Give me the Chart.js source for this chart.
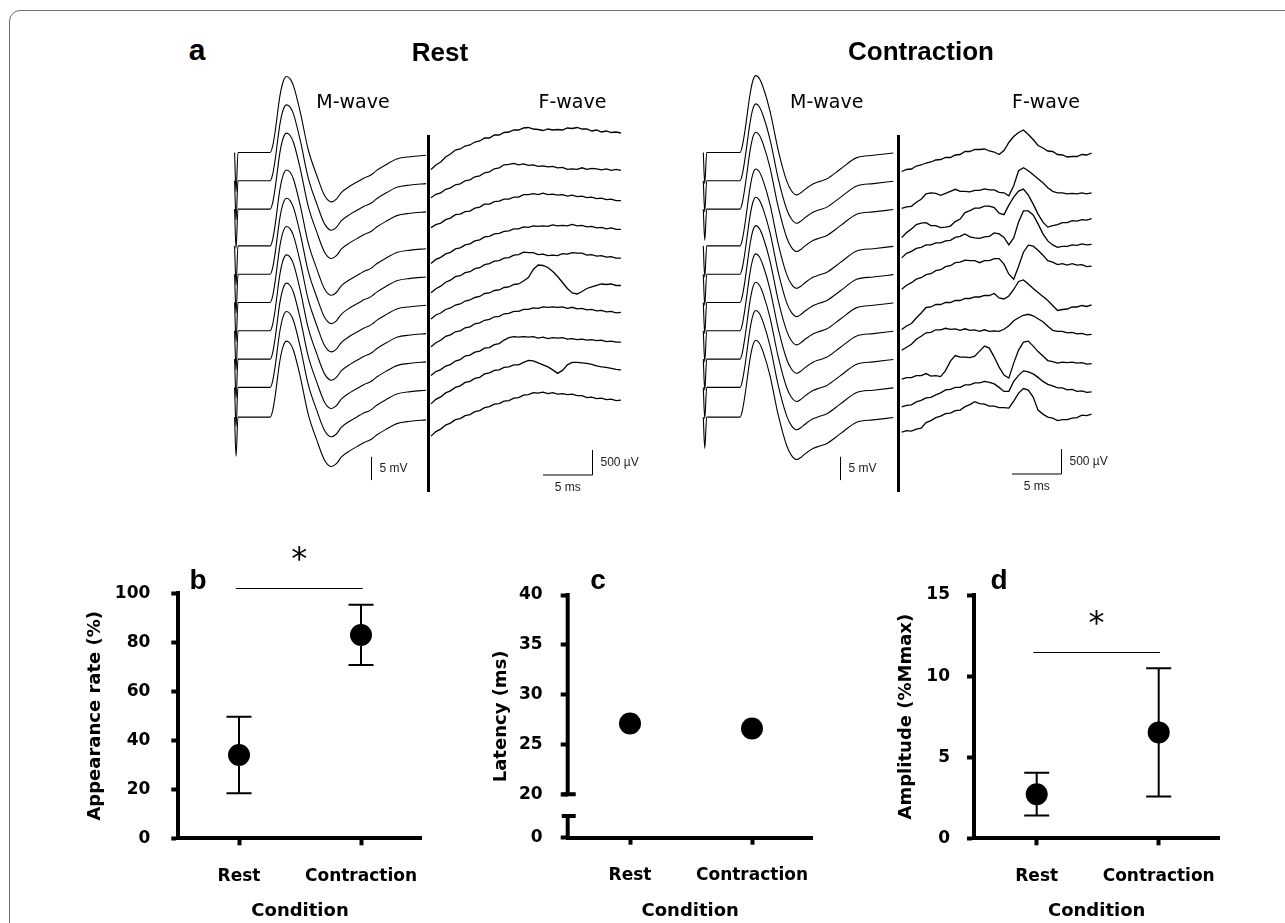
<!DOCTYPE html>
<html>
<head>
<meta charset="utf-8">
<title>M-wave / F-wave figure</title>
<script src="https://cdn.jsdelivr.net/npm/chart.js"></script>
<style>
  html, body { margin: 0; padding: 0; background: #fff; }
  body { position: relative; width: 1285px; height: 923px; overflow: hidden; }
  .frame { position: absolute; left: 9px; top: 10px; width: 1320px; height: 960px; border: 1px solid #707070; border-radius: 11px; }
  canvas { position: absolute; }
  .lbl { position: absolute; white-space: nowrap; color: #000; transform: translateX(-50%); }
  .sep { position: absolute; width: 3px; background: #000; }
</style>
</head>
<body>
<div class="frame"></div>
<canvas id="restM"></canvas>
<canvas id="restF"></canvas>
<canvas id="conM"></canvas>
<canvas id="conF"></canvas>
<canvas id="panelB"></canvas>
<canvas id="panelC"></canvas>
<canvas id="panelD"></canvas>
<div class="sep" style="left:427px;top:135px;height:357px"></div>
<div class="sep" style="left:897px;top:135px;height:357px"></div>

<script>
// ---- data ----

// M-wave (mV) vs time after stimulus (ms); all 10 sweeps overlap in shape
const restMTimes = [-0.35, -0.2, 0, 3.3, 3.55, 3.8, 4.3, 4.65, 5.0, 5.35, 5.7, 6.4, 7.2, 8.1, 8.9, 9.6, 10.1, 10.6, 11.5, 12.5, 13.0, 13.4, 13.8, 14.2, 15.3, 16.3, 17.7, 19.3];
const restMWave  = [0, -8.4, 0, 0, 1.3, 4.3, 12.1, 15.3, 16.3, 15.8, 14.3, 8.6, 0.7, -5.0, -9.3, -10.6, -10.0, -8.6, -7.2, -6.0, -5.4, -5.1, -4.6, -3.9, -2.5, -1.4, -0.9, -0.6];
const conMTimes  = [-0.35, -0.2, 0, 3.42, 3.65, 3.93, 4.45, 4.75, 5.06, 5.4, 5.81, 6.5, 7.35, 8.21, 8.7, 9.24, 9.7, 10.1, 10.95, 11.6, 12.3, 13.7, 15.4, 17.1, 19.16];
const conMWave   = [0, -6.7, 0, 0, 1.3, 4.7, 12.5, 15.5, 16.5, 15.9, 13.9, 8.9, 0.4, -6.1, -8.2, -9.1, -8.6, -7.9, -6.7, -6.2, -5.7, -3.6, -1.1, -0.6, -0.1];

// F-wave window, ms from window start
const fTimes = [0, 0.5, 1, 1.5, 2, 2.5, 3, 3.5, 4, 4.5, 5, 5.5, 6, 6.5, 7, 7.5, 8, 8.5, 9, 9.5,
                10, 10.5, 11, 11.5, 12, 12.5, 13, 13.5, 14, 14.5, 15, 15.5, 16, 16.5, 17, 17.5, 18, 18.5, 19, 19.5];

// F-wave sweeps at rest (µV)
const restFWaves = [
  [-340,-250,-190,-90,-30,50,70,130,150,210,230,290,290,350,350,400,410,450,450,490,500,470,460,440,470,450,460,450,490,480,500,470,470,430,450,410,430,400,410,390],
  [-340,-270,-240,-170,-140,-80,-60,0,20,80,100,160,180,240,260,320,330,350,320,340,310,320,290,300,280,290,260,270,230,240,230,260,230,250,240,220,240,210,230,210],
  [-370,-310,-280,-210,-180,-110,-100,-50,-40,20,40,100,100,150,160,200,200,240,240,290,290,310,290,320,290,300,280,290,260,280,250,260,230,240,210,220,190,200,170,170],
  [-350,-270,-230,-160,-130,-60,-40,20,40,100,120,180,190,240,250,290,300,340,340,380,370,400,390,400,390,420,400,410,400,430,400,410,380,390,360,370,340,360,330,330],
  [-370,-290,-240,-160,-120,-50,-30,30,50,110,130,190,210,260,270,320,330,380,390,440,430,430,390,400,370,380,370,410,400,430,420,420,380,390,360,370,340,350,320,320],
  [-330,-250,-210,-140,-110,-50,-30,30,50,100,120,180,190,240,250,300,310,360,370,430,500,660,750,740,700,620,520,400,280,190,170,220,280,310,340,370,360,370,340,340],
  [-320,-240,-190,-110,-80,-20,0,60,80,140,160,210,230,280,290,340,350,390,390,430,430,460,450,480,470,480,470,480,450,470,440,450,420,430,400,410,380,390,360,370],
  [-330,-250,-210,-140,-110,-40,-10,60,80,140,160,220,230,290,310,380,430,450,440,450,440,450,420,440,410,430,420,430,400,410,390,400,380,390,370,380,350,360,340,340],
  [-330,-240,-190,-110,-70,0,30,100,120,180,200,270,290,340,350,400,410,450,450,500,540,530,490,450,410,350,280,340,450,500,500,490,480,460,430,410,400,380,360,350],
  [-380,-290,-240,-160,-120,-50,-30,30,50,110,130,190,210,260,270,320,330,380,390,440,450,490,480,500,470,490,460,470,450,460,430,430,390,400,370,380,350,360,330,340]
];

// F-wave sweeps during contraction (µV)
const conFWaves = [
  [-380,-340,-330,-270,-250,-210,-190,-150,-140,-100,-100,-50,-40,20,20,60,60,70,30,10,-40,40,200,320,400,450,360,260,140,90,30,20,-40,-50,-90,-80,-80,-40,-50,-10],
  [-550,-520,-510,-430,-370,-260,-240,-250,-290,-250,-210,-170,-210,-210,-220,-190,-190,-160,-180,-180,-230,-240,-300,-100,200,260,200,120,40,-40,-140,-210,-240,-240,-260,-250,-260,-240,-260,-240],
  [-570,-470,-400,-310,-280,-270,-330,-330,-370,-360,-340,-250,-200,-70,-30,20,20,60,60,30,-80,-110,80,240,360,400,280,100,-100,-260,-360,-330,-310,-270,-270,-230,-240,-210,-220,-190],
  [-240,-150,-110,-50,-30,20,20,60,60,100,110,170,190,240,180,160,150,180,190,260,240,170,20,160,480,700,700,620,440,240,100,20,-30,-10,-10,20,10,40,20,30],
  [-300,-220,-170,-100,-70,-10,10,70,90,150,170,230,240,280,270,270,230,270,270,310,310,200,0,-100,160,440,580,560,480,380,270,240,190,210,180,210,180,190,150,160],
  [-540,-470,-420,-310,-210,-100,-90,-40,-40,0,0,40,40,80,80,110,110,140,140,180,90,70,130,260,420,450,370,280,200,120,40,-60,-160,-140,-130,-90,-90,-60,-80,-50],
  [-390,-330,-270,-170,-110,-40,-30,20,20,50,30,40,10,40,10,20,-10,20,-10,0,-10,30,100,200,260,310,330,300,240,180,90,10,-10,-10,-40,-30,-60,-50,-80,-70],
  [-400,-370,-370,-330,-330,-290,-340,-330,-350,-230,-40,70,40,40,30,60,160,260,220,40,-160,-320,-380,-80,180,340,360,260,150,60,-30,-50,-80,-60,-70,-60,-80,-70,-100,-90],
  [-390,-360,-350,-290,-260,-210,-200,-150,-110,-50,-40,0,0,50,50,90,90,120,100,70,0,-80,-80,120,240,330,310,270,200,120,60,30,-10,-10,-50,-40,-80,-70,-100,-90],
  [-300,-270,-280,-240,-220,-110,-70,-10,20,70,80,130,140,210,250,310,270,260,220,220,190,190,180,320,480,570,540,400,140,60,0,-20,-70,-50,-50,-20,-10,40,30,60]
];

// summary panels
const conditions = ['Rest', 'Contraction'];
const appearanceMean = [34.0, 83.0];
const appearanceSD   = [15.6, 12.3];
const latencyMean    = [27.1, 26.6];
const amplitudeMean  = [2.72, 6.53];
const amplitudeSD    = [1.32, 3.95];
const appearanceTicks = [0, 20, 40, 60, 80, 100];
const latencyTicks    = [20, 25, 30, 35, 40];
const amplitudeTicks  = [0, 5, 10, 15];

// ---- layout ----
const ARIAL = '"Liberation Sans", Arial, sans-serif';
const VERD = '"DejaVu Sans", Verdana, sans-serif';
Chart.defaults.color = '#000';
Chart.defaults.font.family = VERD;

const MS_PX = 9.74;            // 5 ms bar = 48.7 px
const MV_PER_PX = 5 / 23.3;    // 5 mV bar
const UV_PER_PX = 20;          // 500 µV bar = 25 px
const ROW0 = 152.5, ROW_GAP = 28.3;
const TRACE_TOP = 60, TRACE_H = 440;
const rowSlots = [0, 1, 2, 3.3, 4.3, 5.3, 6.3, 7.3, 8.3, 9.35];

function label(txt, x, base, size, family, weight) {
  const d = document.createElement('div');
  d.className = 'lbl';
  d.textContent = txt;
  d.style.font = weight + ' ' + size + 'px ' + family;
  d.style.lineHeight = '1';
  d.style.left = x + 'px';
  d.style.top = (base - 0.846 * size) + 'px';
  document.body.appendChild(d);
}

// scale bars, drawn in chart units
const scaleBarPlugin = {
  id: 'scalebar',
  afterDraw(chart, args, o) {
    const { ctx, scales: { x, y } } = chart;
    const px = Math.round(x.getPixelForValue(o.t)) + 0.5;
    const y0 = y.getPixelForValue(o.v), y1 = y.getPixelForValue(o.v + o.len);
    ctx.save();
    ctx.strokeStyle = '#000';
    ctx.lineWidth = 1;
    ctx.beginPath();
    ctx.moveTo(px, y0); ctx.lineTo(px, y1);
    let hx = px;
    if (o.hLen) {
      hx = x.getPixelForValue(o.t - o.hLen);
      ctx.moveTo(px, y0); ctx.lineTo(hx, y0);
    }
    ctx.stroke();
    ctx.fillStyle = '#222';
    ctx.font = '12px ' + ARIAL;
    ctx.textBaseline = 'middle';
    ctx.textAlign = 'left';
    ctx.fillText(o.text, px + 8, (y0 + y1) / 2);
    if (o.hLen) {
      ctx.textAlign = 'center';
      ctx.fillText(o.hText, (px + hx) / 2, y0 + 13);
    }
    ctx.restore();
  }
};

function traceChart(id, left, width, t0, perPx, times, traces, lw, smooth, bar) {
  const cv = document.getElementById(id);
  cv.width = width; cv.height = TRACE_H;
  cv.style.left = left + 'px'; cv.style.top = TRACE_TOP + 'px';
  const datasets = traces.map((vals, i) => {
    const shift = rowSlots[i] * ROW_GAP * perPx;
    return {
      data: vals.map((v, k) => ({ x: times[k], y: v - shift })),
      borderColor: '#000',
      borderWidth: lw,
      pointRadius: 0,
      tension: 0,
      cubicInterpolationMode: smooth ? 'monotone' : 'default',
      clip: false
    };
  });
  new Chart(cv, {
    type: 'line',
    data: { datasets },
    options: {
      responsive: false, animation: false, devicePixelRatio: 1, events: [],
      layout: { padding: 0 },
      plugins: { legend: { display: false }, tooltip: { enabled: false }, scalebar: bar },
      scales: {
        x: { type: 'linear', display: false, min: (left - t0) / MS_PX, max: (left + width - t0) / MS_PX },
        y: { type: 'linear', display: false, min: -(TRACE_TOP + TRACE_H - ROW0) * perPx, max: (ROW0 - TRACE_TOP) * perPx }
      }
    },
    plugins: [scaleBarPlugin]
  });
}

const tenRows = arr => rowSlots.map(() => arr);

traceChart('restM', 220, 207, 238, MV_PER_PX, restMTimes, tenRows(restMWave), 1.1, true,
  { t: 13.62, v: -70.3, len: 5, text: '5 mV' });
traceChart('restF', 430, 230, 431, UV_PER_PX, fTimes, restFWaves, 1.3, false,
  { t: 16.5, v: -6450, len: 500, text: '500 µV', hLen: 5, hText: '5 ms' });
traceChart('conM', 690, 207, 706.7, MV_PER_PX, conMTimes, tenRows(conMWave), 1.1, true,
  { t: 13.69, v: -70.3, len: 5, text: '5 mV' });
traceChart('conF', 900, 230, 901.7, UV_PER_PX, fTimes, conFWaves, 1.3, false,
  { t: 16.32, v: -6430, len: 500, text: '500 µV', hLen: 5, hText: '5 ms' });

// ---- summary panels ----
const CAT_GAP = 122;
const PANEL_TOP = 540, PANEL_H = 383;
const YW = 100, XH = 84;
const LAT_MIN = 15.645, LAT_BREAK = 17.82;

function dotChart(p) {
  const cv = document.getElementById(p.id);
  cv.width = p.width; cv.height = PANEL_H;
  cv.style.left = p.left + 'px'; cv.style.top = PANEL_TOP + 'px';
  const [aL, aT, aR, aB] = p.area;
  const tickFont = { family: VERD, size: 17, weight: 'bold' };
  const titleFont = { family: VERD, size: 18, weight: 'bold' };

  const marks = {
    id: 'marks',
    beforeDatasetsDraw(chart) {
      if (!p.sd) return;
      const { ctx, scales: { x, y } } = chart;
      ctx.save();
      ctx.strokeStyle = '#000';
      ctx.lineWidth = 2;
      p.mean.forEach((m, i) => {
        const px = x.getPixelForValue(i);
        const yHi = y.getPixelForValue(m + p.sd[i]), yLo = y.getPixelForValue(m - p.sd[i]);
        ctx.beginPath();
        ctx.moveTo(px, yHi); ctx.lineTo(px, yLo);
        ctx.moveTo(px - 12.5, yHi); ctx.lineTo(px + 12.5, yHi);
        ctx.moveTo(px - 12.5, yLo); ctx.lineTo(px + 12.5, yLo);
        ctx.stroke();
      });
      ctx.restore();
    },
    afterDraw(chart) {
      const { ctx, scales: { x, y }, chartArea } = chart;
      ctx.save();
      ctx.strokeStyle = '#000';
      ctx.fillStyle = '#000';
      if (p.sig) {
        const x1 = x.getPixelForValue(p.sig.from), x2 = x.getPixelForValue(p.sig.to);
        const sy = Math.round(y.getPixelForValue(p.sig.y)) + 0.5;
        ctx.lineWidth = 1.2;
        ctx.beginPath(); ctx.moveTo(x1, sy); ctx.lineTo(x2, sy); ctx.stroke();
        ctx.font = '32px ' + VERD;
        ctx.textAlign = 'center';
        ctx.textBaseline = 'alphabetic';
        ctx.fillText('*', (x1 + x2) / 2, sy - 38 + 18.6);
      }
      if (p.broken) {
        const x0 = chartArea.left;
        const yTop = y.getPixelForValue(y.max), y20 = y.getPixelForValue(20);
        const yBrk = y.getPixelForValue(LAT_BREAK), yBot = y.getPixelForValue(y.min);
        ctx.lineWidth = 4;
        ctx.beginPath();
        ctx.moveTo(x0, yTop - 2); ctx.lineTo(x0, y20);
        ctx.moveTo(x0, yBrk); ctx.lineTo(x0, yBot);
        ctx.moveTo(x0 - 6, y20); ctx.lineTo(x0 + 8, y20);
        ctx.moveTo(x0 - 6, yBrk); ctx.lineTo(x0 + 8, yBrk);
        ctx.stroke();
      }
      ctx.restore();
    }
  };

  new Chart(cv, {
    type: 'scatter',
    data: {
      datasets: [{
        data: p.mean.map((m, i) => ({ x: i, y: m })),
        pointRadius: 11, pointHoverRadius: 11,
        backgroundColor: '#000', borderWidth: 0, clip: false
      }]
    },
    options: {
      responsive: false, animation: false, devicePixelRatio: 1, events: [],
      layout: { padding: { left: aL - p.left - YW, right: p.left + p.width - aR, top: aT - PANEL_TOP, bottom: PANEL_TOP + PANEL_H - aB - XH } },
      plugins: { legend: { display: false }, tooltip: { enabled: false } },
      scales: {
        x: {
          type: 'linear',
          min: (aL - p.tick0) / CAT_GAP, max: (aR - p.tick0) / CAT_GAP,
          afterBuildTicks: s => { s.ticks = conditions.map((c, i) => ({ value: i })); },
          afterFit: s => { s.height = XH; },
          ticks: { font: tickFont, color: '#000', padding: 21, maxRotation: 0, autoSkip: false, callback: v => conditions[v] },
          grid: { drawOnChartArea: false, tickLength: 7, tickWidth: 4, tickColor: '#000' },
          border: { width: 4, color: '#000' },
          title: { display: true, text: 'Condition', font: titleFont, color: '#000', padding: 0 }
        },
        y: {
          type: 'linear',
          min: p.yMin, max: p.yMax,
          afterBuildTicks: s => { s.ticks = p.ticks.map(v => ({ value: v })); },
          afterFit: s => { s.width = YW; },
          ticks: { font: tickFont, color: '#000', padding: p.tickPad, autoSkip: false,
                   callback: v => (p.broken && v === LAT_MIN) ? '0' : v },
          grid: { drawOnChartArea: false, tickLength: 7, tickWidth: 4, tickColor: '#000' },
          border: { display: !p.broken, width: 4, color: '#000' },
          title: { display: true, text: p.title, font: titleFont, color: '#000', padding: { top: p.titlePad, bottom: 0 } }
        }
      }
    },
    plugins: [marks]
  });
}

dotChart({ id: 'panelB', left: 60, width: 390, area: [178.3, 593.3, 421.7, 838.3], tick0: 239,
  yMin: 0, yMax: 100, ticks: appearanceTicks, mean: appearanceMean, sd: appearanceSD,
  title: 'Appearance rate (%)', titlePad: 5.9, tickPad: 21, sig: { from: -0.027, to: 1.014, y: 102 } });
dotChart({ id: 'panelC', left: 460, width: 400, area: [567.7, 595, 812.7, 837.7], tick0: 630,
  yMin: LAT_MIN, yMax: 40, ticks: [LAT_MIN].concat(latencyTicks), mean: latencyMean,
  title: 'Latency (ms)', titlePad: 23.2, tickPad: 18, broken: true });
dotChart({ id: 'panelD', left: 870, width: 400, area: [974, 595, 1219.3, 838.3], tick0: 1036.7,
  yMin: 0, yMax: 15, ticks: amplitudeTicks, mean: amplitudeMean, sd: amplitudeSD,
  title: 'Amplitude (%Mmax)', titlePad: 21.9, tickPad: 17, sig: { from: -0.028, to: 1.01, y: 11.5 } });

// ---- text ----
label('a', 197, 60, 30, ARIAL, 'bold');
label('Rest', 440, 60.5, 26, ARIAL, 'bold');
label('Contraction', 921, 59.5, 26, ARIAL, 'bold');
label('M-wave', 353, 108.3, 19, VERD, 'normal');
label('F-wave', 572.5, 108.3, 19, VERD, 'normal');
label('M-wave', 826.7, 108.3, 19, VERD, 'normal');
label('F-wave', 1046, 108.3, 19, VERD, 'normal');
label('b', 198, 590, 28, ARIAL, 'bold');
label('c', 598, 590, 28, ARIAL, 'bold');
label('d', 999, 590, 28, ARIAL, 'bold');
</script>
</body>
</html>
